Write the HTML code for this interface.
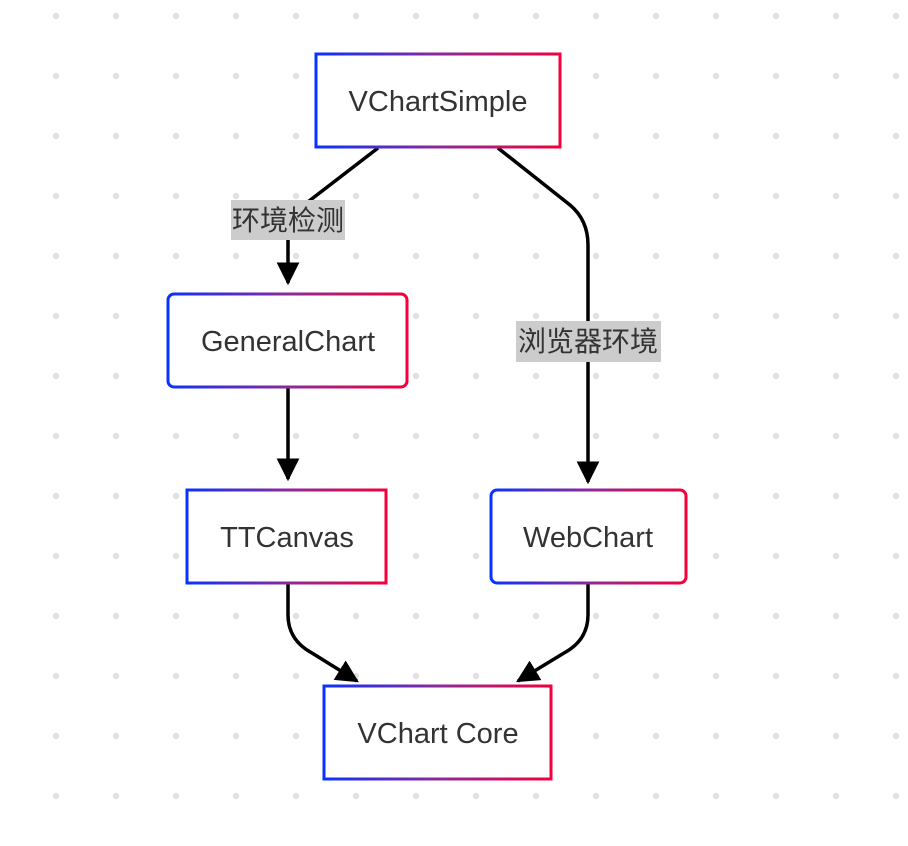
<!DOCTYPE html>
<html><head><meta charset="utf-8"><style>
body{margin:0;background:#fff;}
svg{display:block;}
text{font-family:"Liberation Sans","Noto Sans CJK SC",sans-serif;fill:#333;}
</style></head><body>
<svg width="908" height="846" viewBox="0 0 908 846">
<defs>
<pattern id="dots" x="26" y="-14" width="60" height="60" patternUnits="userSpaceOnUse">
<circle cx="30" cy="30" r="3.2" fill="#e1e1e4"/>
</pattern>
<linearGradient id="g" x1="0" y1="0" x2="1" y2="0">
<stop offset="0" stop-color="#0a32ff"/>
<stop offset="0.5" stop-color="#8a2a9a"/>
<stop offset="1" stop-color="#f5003c"/>
</linearGradient>
<marker id="a" viewBox="0 0 10 10" refX="9" refY="5" markerWidth="6.5" markerHeight="6.5" orient="auto" markerUnits="strokeWidth">
<path d="M0,0 L10,5 L0,10 z" fill="#000"/>
</marker>
</defs>
<rect width="908" height="846" fill="url(#dots)"/>
<g fill="none" stroke="#000" stroke-width="3.5">
<path d="M378,148 L300,208 Q288,218 288,232 L288,283" marker-end="url(#a)"/>
<path d="M498,148 L570,205 Q588,220 588,245 L588,482" marker-end="url(#a)"/>
<path d="M288,388 L288,479" marker-end="url(#a)"/>
<path d="M288,584 L288,615 Q288,640 312,653 L357,681" marker-end="url(#a)"/>
<path d="M588,584 L588,615 Q588,640 564,653 L518,681" marker-end="url(#a)"/>
</g>
<rect x="231" y="200" width="114" height="40" fill="#cccccc"/>
<text x="288" y="230" font-size="28" text-anchor="middle">环境检测</text>
<rect x="516" y="321" width="145" height="41" fill="#cccccc"/>
<text x="588" y="351" font-size="28" text-anchor="middle">浏览器环境</text>
<g fill="#fff" stroke="url(#g)" stroke-width="3">
<rect x="316" y="54" width="244" height="93"/>
<rect x="168" y="294" width="239" height="93" rx="6"/>
<rect x="187" y="490" width="199" height="93"/>
<rect x="491" y="490" width="195" height="93" rx="6"/>
<rect x="324" y="686" width="227" height="93"/>
</g>
<g font-size="29" text-anchor="middle">
<text x="438" y="111">VChartSimple</text>
<text x="288" y="351">GeneralChart</text>
<text x="287" y="547">TTCanvas</text>
<text x="588" y="547">WebChart</text>
<text x="438" y="743">VChart Core</text>
</g>
</svg>
</body></html>
